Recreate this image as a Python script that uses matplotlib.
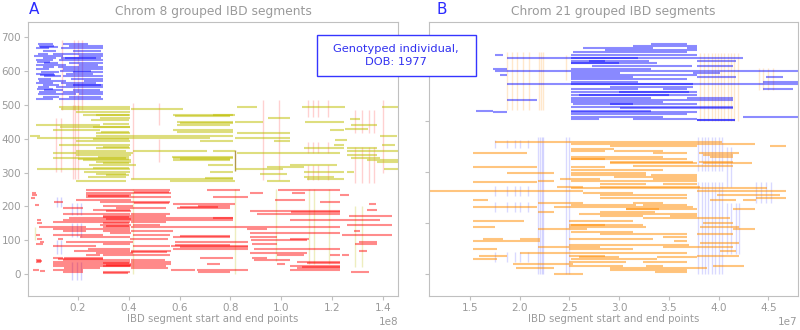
import matplotlib
matplotlib.use("Agg")
import matplotlib.pyplot as plt
from matplotlib.patches import Rectangle

MB = 1e6

# ---------------- Chrom 8 (positions in Mb) : (y, start, end) ----------------
chr8_blue = [
    (680, 4.1, 10.0), (680, 14.0, 23.8), (674, 4.7, 10.7), (674, 16.6, 29.8),
    (667, 3.4, 8.7), (667, 13.3, 29.8), (660, 6.1, 11.3), (660, 17.9, 29.1),
    (652, 4.1, 8.0), (652, 10.0, 21.9), (652, 21.9, 29.8), (646, 2.8, 14.0),
    (646, 20.5, 29.8), (639, 6.1, 11.3), (639, 13.3, 27.1), (632, 3.4, 10.0),
    (632, 12.6, 29.8), (625, 6.7, 12.0), (625, 16.6, 29.8), (619, 3.4, 15.3),
    (619, 20.5, 27.8), (612, 6.1, 10.7), (612, 12.0, 29.8), (605, 3.4, 8.7),
    (605, 14.0, 29.8), (598, 5.4, 12.6), (598, 17.9, 29.8), (592, 3.4, 10.7),
    (592, 15.3, 25.8), (585, 6.7, 13.3), (585, 14.0, 29.8), (578, 4.1, 9.4),
    (578, 17.3, 29.8), (572, 4.7, 15.3), (572, 22.5, 29.8), (565, 3.4, 10.0),
    (565, 13.3, 27.1), (558, 6.1, 12.6), (558, 15.3, 29.8), (552, 4.1, 8.7),
    (552, 11.3, 29.8), (545, 6.7, 14.0), (545, 17.9, 28.5), (538, 4.7, 11.3),
    (538, 14.0, 29.8), (532, 4.1, 19.2), (532, 20.5, 29.8), (525, 6.1, 12.6),
    (525, 16.6, 29.1), (518, 3.4, 10.0), (518, 12.6, 29.8), (600, 13.0, 25.0),
    (640, 15.0, 29.0), (560, 18.0, 29.0), (670, 5.0, 12.0), (628, 4.0, 9.0),
    (588, 5.0, 11.0), (548, 4.0, 10.0),
]

chr8_yellow = [
    (495, 12.6, 40.3), (495, 82.5, 90.4), (495, 108.2, 125.3), (495, 139.8, 146.0),
    (488, 13.3, 40.3), (488, 41.0, 61.4), (480, 19.2, 40.3), (471, 27.1, 40.3),
    (471, 57.4, 81.2), (471, 73.3, 81.8), (461, 28.5, 40.3), (461, 95.0, 103.6),
    (451, 58.8, 81.2), (451, 81.8, 93.0), (451, 109.5, 124.6), (441, 3.5, 28.5),
    (441, 58.8, 79.8), (441, 127.3, 137.8), (436, 13.0, 40.3), (436, 25.8, 40.3),
    (426, 10.0, 28.5), (426, 57.4, 81.2), (426, 119.4, 124.6), (416, 27.1, 40.3),
    (416, 82.5, 103.6), (409, 1.0, 5.0), (409, 27.1, 81.2), (409, 139.1, 145.7),
    (402, 4.0, 41.0), (402, 41.0, 71.9), (402, 81.8, 91.7), (402, 91.7, 103.6),
    (392, 19.2, 40.3), (392, 68.0, 81.2), (392, 97.0, 103.6), (382, 12.6, 40.3),
    (382, 120.7, 124.6), (382, 139.8, 145.0), (372, 27.1, 40.3), (372, 108.8, 124.6),
    (372, 126.0, 137.8), (363, 19.2, 39.0), (363, 41.6, 70.6), (363, 73.3, 81.8),
    (363, 126.0, 146.0), (357, 10.0, 41.5), (357, 82.5, 103.6), (357, 103.6, 123.3),
    (351, 19.2, 41.0), (351, 126.0, 137.8), (344, 10.0, 39.0), (344, 57.4, 81.2),
    (344, 127.3, 139.1), (337, 22.0, 41.0), (337, 57.4, 79.8), (337, 133.9, 146.0),
    (332, 27.1, 41.0), (332, 137.8, 146.0), (322, 24.5, 43.0), (322, 71.3, 81.2),
    (322, 103.6, 122.0), (317, 94.3, 108.8), (310, 4.0, 40.3), (310, 81.8, 100.9),
    (310, 140.4, 146.0), (302, 22.5, 40.3), (302, 71.9, 81.2), (302, 108.8, 124.6),
    (302, 126.0, 128.6), (295, 27.1, 39.0), (295, 91.7, 102.2), (288, 23.8, 39.0),
    (288, 108.8, 120.7), (281, 41.0, 81.2), (281, 110.1, 124.6), (276, 19.2, 39.0),
    (276, 56.1, 81.8), (276, 94.3, 103.6), (470, 22.0, 40.0), (455, 25.0, 40.0),
    (445, 30.0, 40.0), (420, 29.0, 40.0), (398, 26.0, 40.0), (376, 30.0, 40.0),
    (347, 28.0, 40.0), (340, 20.0, 40.0), (327, 30.0, 40.0), (315, 26.0, 40.0),
    (292, 31.0, 40.0), (466, 58.0, 80.0), (446, 60.0, 81.0), (420, 59.0, 81.0),
    (346, 57.0, 81.0), (339, 60.0, 80.0), (285, 70.0, 81.0), (458, 127.0, 131.0),
    (430, 125.0, 134.0), (397, 121.0, 126.0),
]

chr8_red = [
    (248, 23.2, 56.1), (248, 70.6, 83.8), (248, 98.9, 123.3), (241, 1.8, 3.4),
    (241, 23.2, 41.0), (241, 41.0, 56.8), (241, 87.7, 93.0), (241, 104.2, 109.5),
    (234, 23.2, 41.0), (234, 123.3, 126.6), (227, 23.2, 56.8), (227, 73.3, 87.1),
    (219, 19.2, 41.0), (219, 97.6, 109.5), (214, 10.7, 14.0), (214, 28.5, 56.1),
    (214, 115.4, 123.3), (207, 57.4, 81.8), (207, 134.5, 137.2), (201, 29.8, 41.6),
    (201, 67.3, 79.8), (195, 14.0, 21.9), (195, 35.0, 54.8), (195, 58.8, 79.8),
    (190, 25.8, 40.3), (190, 133.9, 137.8), (185, 31.1, 41.0), (185, 87.7, 103.6),
    (185, 103.6, 123.3), (178, 14.0, 40.3), (178, 41.0, 56.1), (178, 90.4, 123.3),
    (172, 29.8, 54.8), (172, 126.6, 143.7), (166, 16.6, 81.2), (166, 73.3, 81.2),
    (159, 14.0, 58.8), (159, 58.8, 81.2), (159, 103.6, 123.3), (159, 123.3, 139.1),
    (153, 10.0, 40.3), (153, 41.0, 54.8), (146, 28.5, 41.0), (146, 41.6, 52.2),
    (146, 126.0, 143.7), (139, 4.7, 23.2), (139, 29.8, 40.3), (139, 41.0, 87.7),
    (139, 87.7, 123.3), (133, 10.0, 40.3), (133, 86.4, 94.3), (126, 14.0, 23.2),
    (126, 29.8, 40.3), (126, 41.0, 57.4), (126, 128.6, 131.2), (122, 32.4, 41.0),
    (122, 87.7, 123.3), (116, 10.0, 29.8), (116, 41.6, 56.1), (116, 124.0, 143.7),
    (109, 20.6, 40.3), (109, 57.4, 79.8), (109, 87.7, 98.3), (103, 12.0, 14.0),
    (103, 40.3, 55.5), (103, 103.6, 110.8), (96, 15.3, 41.6), (96, 58.1, 87.1),
    (96, 130.6, 137.8), (89, 3.4, 6.1), (89, 29.8, 40.3), (89, 88.4, 98.3),
    (89, 129.2, 137.8), (82, 10.0, 27.1), (82, 41.6, 56.1), (82, 56.8, 87.1),
    (75, 23.8, 40.3), (75, 57.4, 87.1), (75, 89.1, 123.3), (68, 18.6, 40.3),
    (68, 41.0, 56.8), (68, 130.6, 133.9), (61, 27.1, 41.6), (61, 87.7, 98.3),
    (61, 98.3, 110.1), (55, 23.2, 28.5), (55, 29.8, 40.3), (55, 40.3, 56.1),
    (55, 98.3, 108.8), (55, 119.4, 123.3), (55, 124.0, 126.6), (48, 10.0, 14.0),
    (48, 14.6, 29.8), (48, 88.4, 94.3), (48, 68.0, 81.2), (41, 3.4, 5.4),
    (41, 14.0, 40.3), (41, 41.0, 54.2), (41, 89.1, 103.6), (36, 10.0, 40.3),
    (36, 41.0, 56.8), (36, 106.2, 123.3), (29, 10.0, 56.8), (29, 70.6, 75.9),
    (29, 98.3, 101.6), (24, 10.0, 40.3), (24, 29.8, 40.3), (24, 40.3, 54.8),
    (24, 103.6, 123.3), (18, 14.6, 28.5), (18, 41.0, 55.5), (18, 106.2, 123.3),
    (12, 2.1, 4.7), (12, 10.0, 21.9), (12, 56.8, 66.0), (12, 66.7, 87.1),
    (12, 103.6, 123.3), (6, 14.0, 21.9), (6, 29.8, 40.3), (6, 67.3, 79.8),
    (6, 127.3, 134.5), (2, 29.8, 39.7), (235, 2.0, 4.0), (225, 1.5, 3.0),
    (205, 3.0, 4.5), (160, 4.0, 5.5), (150, 4.0, 6.0), (115, 3.5, 5.0),
    (105, 4.0, 6.0), (95, 5.0, 6.5), (40, 4.0, 6.0), (35, 3.5, 5.5),
    (8, 5.0, 7.0), (170, 30.0, 40.0), (163, 31.0, 41.0), (150, 30.0, 40.0),
    (143, 31.0, 40.0), (34, 30.0, 40.0), (27, 31.0, 41.0), (80, 60.0, 87.0),
    (85, 58.0, 80.0), (21, 108.0, 123.0), (33, 110.0, 123.0), (244, 42.0, 56.0),
    (231, 24.0, 40.0), (210, 42.0, 56.0), (198, 60.0, 75.0), (182, 104.0, 123.0),
    (112, 60.0, 80.0), (100, 88.0, 110.0), (64, 41.0, 55.0), (44, 12.0, 30.0),
]

# faint endpoint marks: (x Mb, y0, y1)
chr8_marks_red = [
    (11.5, 303, 461), (13.4, 303, 461), (18.0, 280, 500), (19.0, 280, 500),
    (20.0, 280, 500), (41.6, 280, 505), (52.0, 440, 505), (52.0, 330, 400),
    (93.0, 278, 515), (99.0, 278, 515), (110.7, 465, 515), (112.6, 465, 515),
    (114.6, 465, 515), (118.6, 465, 515), (110.7, 357, 390), (112.6, 357, 390),
    (114.6, 357, 390), (118.6, 357, 390), (110.7, 278, 322), (112.6, 278, 322),
    (114.6, 278, 322), (118.6, 278, 322), (129.0, 417, 485), (132.0, 417, 485),
    (134.4, 417, 485), (136.4, 417, 485), (129.0, 270, 375), (132.0, 270, 375),
    (134.4, 270, 375), (136.4, 270, 375), (140.0, 300, 515), (13.8, 485, 692),
    (18.6, 485, 692), (19.8, 485, 692), (21.7, 485, 692),
]
chr8_marks_blue = [
    (11.9, 198, 228), (13.4, 198, 228), (17.8, 175, 210), (19.4, 175, 210),
    (21.3, 175, 210), (17.8, 110, 150), (19.4, 110, 150), (21.3, 110, 150),
    (17.8, -18, 35), (19.4, -18, 35), (21.3, -18, 35), (11.9, 60, 100),
    (13.4, 60, 100),
]
chr8_marks_yellow = [
    (3.0, 100, 140), (41.6, 0, 250), (82.0, 0, 250), (98.0, 40, 250),
    (111.0, 30, 250), (113.0, 30, 250), (119.0, 30, 250), (129.0, 20, 200),
    (132.0, 20, 200),
]
chr8_dark_mark = [(82.0, 306, 367)]

# ---------------- Chrom 21 (positions in Mb) ----------------
chr21_blue = [
    (451, 33.25, 36.8), (447, 31.4, 37.8), (444, 26.4, 33.4), (444, 36.8, 37.8),
    (439, 28.6, 37.8), (435, 25.4, 36.8), (429, 25.2, 37.8), (429, 17.5, 18.3),
    (423, 18.7, 42.5), (423, 25.2, 31.9), (418, 25.2, 28.6), (418, 37.8, 41.8),
    (413, 25.2, 33.8), (413, 25.2, 30.0), (408, 27.3, 37.3), (408, 37.8, 41.5),
    (403, 25.2, 33.25), (403, 17.3, 18.7), (399, 17.5, 48.0), (395, 25.2, 30.1),
    (395, 37.4, 40.1), (390, 18.0, 18.7), (390, 25.2, 37.8), (386, 25.2, 31.4),
    (386, 37.8, 41.8), (386, 44.8, 46.5), (382, 25.2, 36.8), (377, 25.2, 31.9),
    (377, 44.5, 48.0), (372, 18.7, 48.0), (372, 25.2, 37.4), (367, 29.1, 37.4),
    (362, 25.2, 31.9), (362, 34.4, 36.8), (362, 44.5, 47.5), (357, 25.2, 37.8),
    (352, 25.2, 37.8), (352, 26.0, 35.0), (346, 25.2, 33.25), (346, 36.8, 41.5),
    (342, 18.7, 21.7), (342, 25.2, 41.5), (338, 25.2, 34.4), (333, 25.4, 37.8),
    (333, 29.1, 31.4), (328, 25.2, 41.5), (325, 30.1, 36.8), (325, 36.8, 41.5),
    (320, 15.6, 17.3), (320, 25.2, 33.25), (317, 17.3, 18.7), (317, 25.2, 37.8),
    (313, 25.2, 36.8), (308, 25.2, 34.4), (308, 42.5, 48.0), (305, 31.4, 37.8),
    (305, 25.2, 28.0), (302, 37.8, 41.7), (302, 37.8, 41.7), (418, 27.0, 33.0),
    (357, 30.0, 37.0),
]

chr21_orange = [
    (259, 17.5, 23.4), (259, 23.4, 33.25), (259, 33.25, 40.3), (255, 25.2, 37.8),
    (255, 37.8, 43.65), (251, 29.1, 37.8), (251, 45.15, 46.8), (246, 25.2, 29.5),
    (242, 25.2, 28.6), (242, 29.5, 34.4), (238, 15.3, 20.7), (238, 33.4, 36.8),
    (238, 38.0, 42.1), (233, 38.45, 41.5), (230, 25.2, 34.4), (230, 39.1, 41.5),
    (225, 25.2, 28.6), (225, 25.2, 28.6), (225, 28.6, 36.8), (220, 29.1, 37.4),
    (220, 38.0, 41.5), (217, 29.1, 37.8), (217, 38.45, 43.4), (212, 31.4, 41.5),
    (209, 15.3, 21.7), (209, 25.2, 28.6), (204, 25.2, 28.05), (204, 28.05, 34.4),
    (199, 18.7, 23.4), (199, 25.2, 32.7), (195, 25.2, 32.7), (195, 33.25, 37.8),
    (191, 29.5, 37.8), (186, 33.4, 37.8), (186, 24.0, 28.05), (182, 21.85, 23.4),
    (182, 25.2, 37.8), (180, 15.3, 21.7), (176, 28.05, 32.7), (176, 34.4, 37.8),
    (171, 23.7, 26.4), (171, 28.05, 38.1), (168, 25.2, 37.8), (168, 37.8, 44.85),
    (163, 10.9, 25.2), (163, 25.2, 26.4), (163, 37.8, 46.8), (159, 26.4, 31.4),
    (155, 28.05, 36.8), (155, 39.8, 46.2), (150, 28.05, 36.8), (150, 43.8, 46.8),
    (145, 15.3, 16.8), (145, 39.1, 41.8), (145, 42.5, 43.8), (140, 21.85, 26.4),
    (140, 31.4, 34.4), (135, 25.2, 31.7), (135, 32.4, 36.8), (131, 15.3, 21.7),
    (131, 23.4, 37.4), (127, 30.7, 37.8), (127, 30.7, 34.0), (127, 41.5, 43.65),
    (122, 21.85, 23.4), (122, 28.05, 33.6), (118, 26.0, 37.8), (114, 28.05, 32.4),
    (114, 35.1, 37.8), (109, 32.4, 37.8), (109, 37.8, 41.1), (105, 15.3, 20.4),
    (105, 25.0, 31.4), (101, 38.45, 41.5), (96, 25.0, 28.6), (96, 25.2, 32.4),
    (92, 15.3, 17.5), (92, 25.0, 32.7), (92, 38.1, 42.1), (88, 21.85, 26.8),
    (88, 41.5, 43.65), (83, 25.2, 31.4), (78, 28.05, 36.8), (78, 37.8, 41.5),
    (73, 34.4, 36.8), (69, 16.3, 18.3), (69, 20.0, 22.0), (69, 25.0, 33.4),
    (65, 15.3, 22.0), (65, 35.5, 36.8), (61, 38.1, 42.1), (57, 25.0, 37.0),
    (54, 21.85, 28.05), (54, 34.4, 41.5), (49, 15.3, 17.7), (49, 25.0, 31.4),
    (45, 40.1, 41.8), (41, 20.0, 28.05), (41, 28.05, 36.8), (36, 15.9, 18.7),
    (36, 25.0, 28.6), (36, 37.8, 42.1), (33, 33.8, 37.8), (33, 26.0, 30.0),
    (29, 25.2, 33.8), (29, 15.3, 17.7), (24, 25.0, 30.7), (24, 32.4, 36.8),
    (20, 19.3, 21.7), (20, 21.7, 25.4), (16, 25.0, 30.4), (16, 32.7, 34.4),
    (16, 39.4, 42.6), (12, 19.6, 23.4), (12, 29.1, 38.8), (8, 29.1, 36.8),
    (4, 33.6, 36.8), (1, 23.4, 26.4),
]

chr21_marks_orange = [
    (18.7, 322, 435), (19.2, 322, 435), (19.7, 322, 435), (20.3, 322, 435),
    (20.9, 322, 435), (21.9, 322, 435), (22.1, 322, 435), (22.3, 322, 435),
    (24.7, 380, 430), (38.1, 300, 433), (38.5, 300, 433), (38.9, 300, 433),
    (39.3, 300, 433), (39.6, 300, 433), (39.9, 300, 433), (40.2, 300, 433),
    (40.5, 300, 433), (40.9, 300, 433), (41.2, 300, 433), (41.6, 300, 433),
    (42.0, 300, 433), (44.1, 360, 405), (44.5, 360, 405), (45.0, 360, 405),
    (45.5, 360, 405),
]
chr21_marks_blue = [
    (17.5, 247, 263), (18.7, 247, 263), (19.5, 247, 263), (20.0, 247, 263),
    (20.85, 247, 263), (17.5, 153, 173), (18.7, 153, 173), (19.5, 153, 173),
    (20.0, 153, 173), (20.85, 153, 173), (17.5, 122, 141), (18.7, 122, 141),
    (19.5, 122, 141), (20.0, 122, 141), (20.85, 122, 141), (17.5, 24, 43),
    (18.7, 24, 43), (19.5, 24, 43), (20.0, 24, 43), (20.85, 24, 43),
    (21.85, 0, 268), (22.0, 0, 268), (22.2, 0, 268), (22.35, 0, 268),
    (24.7, 0, 268), (25.0, 0, 268), (37.95, 203, 268), (38.3, 203, 268),
    (38.6, 203, 268), (38.9, 203, 268), (39.3, 203, 268), (39.6, 203, 268),
    (40.0, 203, 268), (40.3, 203, 268), (37.95, 0, 180), (38.3, 0, 180),
    (38.6, 0, 180), (38.9, 0, 180), (39.3, 0, 180), (39.6, 0, 180),
    (40.0, 0, 180), (40.3, 0, 180), (40.8, 40, 140), (41.3, 40, 140),
    (41.8, 40, 140), (42.1, 40, 140), (40.8, 170, 250), (41.3, 170, 250),
    (43.8, 140, 180), (44.3, 140, 180), (44.8, 140, 180), (45.3, 140, 180),
]

chr8_yticks = [0, 100, 200, 300, 400, 500, 600, 700]
chr8_xticks = [0.2e8, 0.4e8, 0.6e8, 0.8e8, 1.0e8, 1.2e8, 1.4e8]
chr21_xticks = [1.5e7, 2.0e7, 2.5e7, 3.0e7, 3.5e7, 4.0e7, 4.5e7]
chr21_yticks = [0, 100, 200, 300, 400]

GRAY = '#9a9a9a'
SPINE = '#c0c0c0'


def draw_segments(ax, segs, color, alpha=0.45, lw=1.5):
    ys = [s[0] for s in segs]
    x0 = [s[1] * MB for s in segs]
    x1 = [s[2] * MB for s in segs]
    ax.hlines(ys, x0, x1, colors=color, alpha=alpha, linewidth=lw, zorder=2)


def draw_marks(ax, marks, color, alpha=0.18, lw=1.0):
    xs = [m[0] * MB for m in marks]
    y0 = [m[1] for m in marks]
    y1 = [m[2] for m in marks]
    ax.vlines(xs, y0, y1, colors=color, alpha=alpha, linewidth=lw, zorder=1)


def style(ax, title):
    for sp in ax.spines.values():
        sp.set_color(SPINE)
    ax.tick_params(colors=GRAY, labelsize=7.5, color=SPINE, length=3, pad=2)
    ax.xaxis.get_offset_text().set_color(GRAY)
    ax.xaxis.get_offset_text().set_fontsize(7.5)
    ax.set_xlabel('IBD segment start and end points', color=GRAY, fontsize=7.3, labelpad=1)
    ax.set_title(title, color=GRAY, fontsize=8.8, pad=5)


fig = plt.figure(figsize=(8, 3.3), dpi=100)
ax1 = fig.add_axes([0.035, 0.103, 0.4625, 0.830])
ax2 = fig.add_axes([0.536, 0.103, 0.461, 0.830])

draw_marks(ax1, chr8_marks_red, 'red')
draw_marks(ax1, chr8_marks_blue, 'blue')
draw_marks(ax1, chr8_marks_yellow, 'y', alpha=0.25)
draw_segments(ax1, chr8_blue, 'blue')
draw_segments(ax1, chr8_yellow, 'y', alpha=0.5)
draw_segments(ax1, chr8_red, 'red')
draw_marks(ax1, chr8_dark_mark, '#a08020', alpha=0.8)

ax1.set_xlim(0.3e6, 146e6)
ax1.set_ylim(-65, 745)
ax1.set_xticks(chr8_xticks)
ax1.set_yticks(chr8_yticks)
style(ax1, 'Chrom 8 grouped IBD segments')

draw_marks(ax2, chr21_marks_orange, 'darkorange', alpha=0.2)
draw_marks(ax2, chr21_marks_blue, 'blue', alpha=0.15)
draw_segments(ax2, chr21_blue, 'blue')
draw_segments(ax2, chr21_orange, 'darkorange', alpha=0.5)

ax2.set_xlim(10.85e6, 47.95e6)
ax2.set_ylim(-43, 494)
ax2.set_xticks(chr21_xticks)
ax2.set_yticks(chr21_yticks)
ax2.set_yticklabels([])
style(ax2, 'Chrom 21 grouped IBD segments')

fig.text(29 / 800, 1 - 9 / 330, 'A', color='#2a2aff', fontsize=11, ha='left', va='center')
fig.text(436 / 800, 1 - 9 / 330, 'B', color='#2a2aff', fontsize=11, ha='left', va='center')

box = Rectangle((317 / 800, 1 - 76 / 330), 159 / 800, 41 / 330, transform=fig.transFigure,
                facecolor='white', edgecolor='#3535ff', linewidth=1.0, zorder=10)
fig.add_artist(box)
fig.text(396 / 800, 1 - 55.5 / 330, 'Genotyped individual,\nDOB: 1977', color='#3030f0',
         fontsize=8.2, ha='center', va='center', multialignment='center',
         linespacing=1.3, zorder=11)

fig.savefig('out.png', dpi=100)
